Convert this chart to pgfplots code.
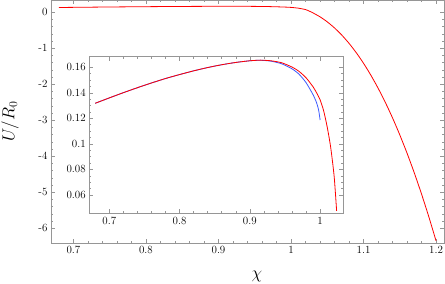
\documentclass[border=0pt]{standalone}
\usepackage{pgfplots}
\pgfplotsset{compat=1.18}
\definecolor{myred}{RGB}{255,0,0}
\definecolor{myblue}{RGB}{60,90,255}
\definecolor{framegray}{RGB}{150,150,150}
\pgfplotstableread{
x y
0.680 0.1318
0.700 0.1360
0.720 0.1401
0.740 0.1440
0.760 0.1477
0.780 0.1512
0.800 0.1543
0.820 0.1572
0.840 0.1598
0.860 0.1620
0.880 0.1638
0.900 0.1651
0.915 0.1656
0.930 0.1651
0.945 0.1636
0.960 0.1602
0.970 0.1568
0.980 0.1518
0.990 0.1447
0.995 0.1400
1.000 0.1345
1.005 0.1260
1.010 0.1135
1.015 0.0975
1.020 0.0745
1.0235 0.0475
}\redinset
\pgfplotstableread{
x y
0.680 0.1318
0.700 0.1360
0.720 0.1401
0.740 0.1440
0.760 0.1477
0.780 0.1512
0.800 0.1543
0.820 0.1572
0.840 0.1598
0.860 0.1620
0.880 0.1638
0.900 0.1651
0.915 0.1655
0.930 0.1648
0.945 0.1628
0.960 0.1588
0.970 0.1546
0.980 0.1480
0.990 0.1385
0.995 0.1322
0.998 0.1262
1.000 0.1187
}\blueinset
\pgfplotstableread{
x y
0.680 0.1318
0.720 0.1401
0.760 0.1477
0.800 0.1543
0.840 0.1598
0.880 0.1638
0.915 0.1656
0.945 0.1636
0.970 0.1568
0.990 0.1447
1.000 0.1345
1.010 0.1135
1.020 0.0745
1.0235 0.0475
1.030 -0.015
1.040 -0.127
1.050 -0.267
1.060 -0.436
1.070 -0.634
1.080 -0.863
1.090 -1.124
1.100 -1.417
1.110 -1.744
1.120 -2.105
1.130 -2.501
1.140 -2.934
1.150 -3.405
1.160 -3.913
1.170 -4.461
1.180 -5.049
1.190 -5.678
1.200 -6.349
}\redmain
\begin{document}
\begin{tikzpicture}
\pgfplotsset{
  mmastyle/.style={
    scale only axis,
    axis line style={framegray, line width=0.6pt},
    every tick/.style={framegray, line width=0.5pt},
    tick align=inside,
    tick pos=both,
    major tick length=4pt,
    minor tick length=2pt,
    tick label style={font=\fontsize{11}{13}\selectfont, black},
    /pgf/number format/assume math mode=true,
    /pgf/number format/fixed,
  }
}
\path[use as bounding box] (-51pt,-41pt) rectangle (394pt,243pt);
\begin{axis}[
  mmastyle,
  at={(0,0)}, anchor=south west,
  width=393pt, height=243pt,
  xmin=0.669, xmax=1.211,
  ymin=-6.41, ymax=0.34,
  xtick={0.7,0.8,0.9,1,1.1,1.2},
  ytick={-6,-5,-4,-3,-2,-1,0},
  minor x tick num=4,
  minor y tick num=4,
  xlabel={$\chi$},
  ylabel={$U/R_0$},
  label style={font=\fontsize{17}{20}\selectfont},
  xlabel style={at={(axis description cs:0.524,0)}, anchor=center, yshift=-33pt},
  ylabel style={at={(axis description cs:-0.104,0.5)}, anchor=center},
]
\addplot[myred, line width=0.8pt, smooth, tension=0.4] table {\redmain};
\end{axis}
\begin{axis}[
  mmastyle,
  at={(38.3pt,29.7pt)}, anchor=south west,
  width=254pt, height=156.6pt,
  axis background/.style={fill=white},
  xmin=0.6716, xmax=1.033,
  ymin=0.0456, ymax=0.1683,
  xtick={0.7,0.8,0.9,1},
  ytick={0.06,0.08,0.1,0.12,0.14,0.16},
  minor x tick num=4,
  minor y tick num=3,
  yticklabel style={/pgf/number format/precision=2},
]
\addplot[myblue, line width=0.8pt, smooth, tension=0.4] table {\blueinset};
\addplot[myred, line width=0.8pt, smooth, tension=0.4] table {\redinset};
\end{axis}
\end{tikzpicture}
\end{document}
